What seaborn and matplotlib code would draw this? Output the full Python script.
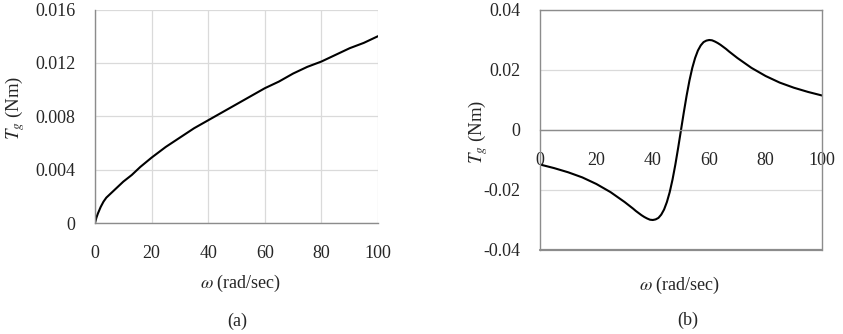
import matplotlib
matplotlib.use("Agg")
import matplotlib.pyplot as plt
import seaborn as sns
import pandas as pd

# ---- data ----
omega_a = [0, 0.5, 1, 2, 3, 4, 5, 6, 8, 10, 13, 16, 20, 25, 30, 35, 40, 45,
           50, 55, 60, 65, 70, 75, 80, 85, 90, 95, 100]
tg_a = [0.0, 0.0004, 0.0007, 0.0012, 0.0016, 0.0019, 0.0021, 0.0023, 0.0027,
        0.0031, 0.0036, 0.0042, 0.0049, 0.0057, 0.0064, 0.0071, 0.0077,
        0.0083, 0.0089, 0.0095, 0.0101, 0.0106, 0.0112, 0.0117, 0.0121,
        0.0126, 0.0131, 0.0135, 0.0140]

omega_b = [0, 5, 10, 15, 20, 25, 30, 33, 34, 35, 36, 37, 38, 39, 40, 41, 42,
           43, 44, 45, 46, 47, 48, 49, 50, 51, 52, 53, 54, 55, 56, 57, 58, 59,
           60, 61, 62, 63, 64, 65, 66, 67, 70, 75, 80, 85, 90, 95, 100]
tg_b = [-0.0115, -0.0127, -0.0141, -0.0158, -0.0180, -0.0207, -0.0240,
        -0.0262, -0.0270, -0.0277, -0.0284, -0.0290, -0.0295, -0.0299,
        -0.0300, -0.0298, -0.0293, -0.0282, -0.0265, -0.0240, -0.0207,
        -0.0165, -0.0115, -0.0059, 0.0, 0.0059, 0.0115, 0.0165, 0.0207,
        0.0240, 0.0265, 0.0282, 0.0293, 0.0298, 0.0300, 0.0299, 0.0295,
        0.0290, 0.0284, 0.0277, 0.0270, 0.0262, 0.0240, 0.0207, 0.0180,
        0.0158, 0.0141, 0.0127, 0.0115]

xticks = [0, 20, 40, 60, 80, 100]
yticks_a = [0, 0.004, 0.008, 0.012, 0.016]
yticklabels_a = ["0", "0.004", "0.008", "0.012", "0.016"]
yticks_b = [-0.04, -0.02, 0, 0.02, 0.04]
yticklabels_b = ["-0.04", "-0.02", "0", "0.02", "0.04"]

xlabel = r"$\omega$ (rad/sec)"
ylabel = r"$T_g$ (Nm)"
captions = ["(a)", "(b)"]

# ---- style ----
sns.set_style("white")
plt.rcParams["font.family"] = ["Liberation Serif", "DejaVu Serif"]
plt.rcParams["mathtext.fontset"] = "stix"
plt.rcParams["font.size"] = 13

AXC = "#8c8c8c"
GRIDC = "#dadada"

df_a = pd.DataFrame({"omega": omega_a, "tg": tg_a})
df_b = pd.DataFrame({"omega": omega_b, "tg": tg_b})

fig = plt.figure(figsize=(8.43, 3.34), dpi=100)
ax1 = fig.add_axes([95 / 843, 1 - 223 / 334, 283 / 843, 213.5 / 334])
ax2 = fig.add_axes([540 / 843, 1 - 250 / 334, 282 / 843, 240 / 334])

# ---- panel (a) ----
sns.lineplot(data=df_a, x="omega", y="tg", ax=ax1, color="black", lw=1.5)
ax1.set_xlim(0, 100)
ax1.set_ylim(0, 0.016)
ax1.set_xticks(xticks)
ax1.set_yticks(yticks_a)
ax1.set_yticklabels(yticklabels_a)
ax1.grid(True, color=GRIDC, lw=0.9)
ax1.set_axisbelow(True)
for s in ["top", "right"]:
    ax1.spines[s].set_visible(False)
for s in ["left", "bottom"]:
    ax1.spines[s].set_color(AXC)
    ax1.spines[s].set_linewidth(1.0)
ax1.tick_params(axis="x", direction="in", length=5, width=1, color=AXC,
                pad=16, labelsize=13)
ax1.tick_params(axis="y", direction="in", length=3, width=1, color=AXC,
                pad=14, labelsize=13)
ax1.set_xlabel("")
ax1.set_ylabel("")
fig.text(241 / 843, 1 - 283 / 334, xlabel, ha="center", va="center", fontsize=13)
fig.text(15 / 843, 1 - 108 / 334, ylabel, ha="center", va="center",
         rotation=90, fontsize=13.5)
fig.text(237 / 843, 1 - 321 / 334, captions[0], ha="center", va="center",
         fontsize=13)

# ---- panel (b) ----
sns.lineplot(data=df_b, x="omega", y="tg", ax=ax2, color="black", lw=1.5)
ax2.set_xlim(0, 100)
ax2.set_ylim(-0.04, 0.04)
ax2.set_xticks(xticks)
ax2.set_yticks(yticks_b)
ax2.set_yticklabels(yticklabels_b)
ax2.yaxis.grid(True, color=GRIDC, lw=0.9)
ax2.xaxis.grid(False)
ax2.set_axisbelow(True)
for s in ["top", "right", "left"]:
    ax2.spines[s].set_color(AXC)
    ax2.spines[s].set_linewidth(1.0)
ax2.spines["bottom"].set_position(("data", 0))
ax2.spines["bottom"].set_color(AXC)
ax2.spines["bottom"].set_linewidth(1.0)
# plot-area border at the bottom
ax2.axhline(-0.04, color=AXC, lw=1.6, clip_on=False, zorder=1)
ax2.tick_params(axis="x", direction="in", length=5, width=1, color=AXC,
                pad=16, labelsize=13)
ax2.tick_params(axis="y", direction="in", length=3, width=1, color=AXC,
                pad=14, labelsize=13)
ax2.set_xlabel("")
ax2.set_ylabel("")
fig.text(680 / 843, 1 - 285 / 334, xlabel, ha="center", va="center", fontsize=13)
fig.text(478 / 843, 1 - 132 / 334, ylabel, ha="center", va="center",
         rotation=90, fontsize=13.5)
fig.text(688 / 843, 1 - 320 / 334, captions[1], ha="center", va="center",
         fontsize=13)

fig.savefig("out.png", dpi=100)
